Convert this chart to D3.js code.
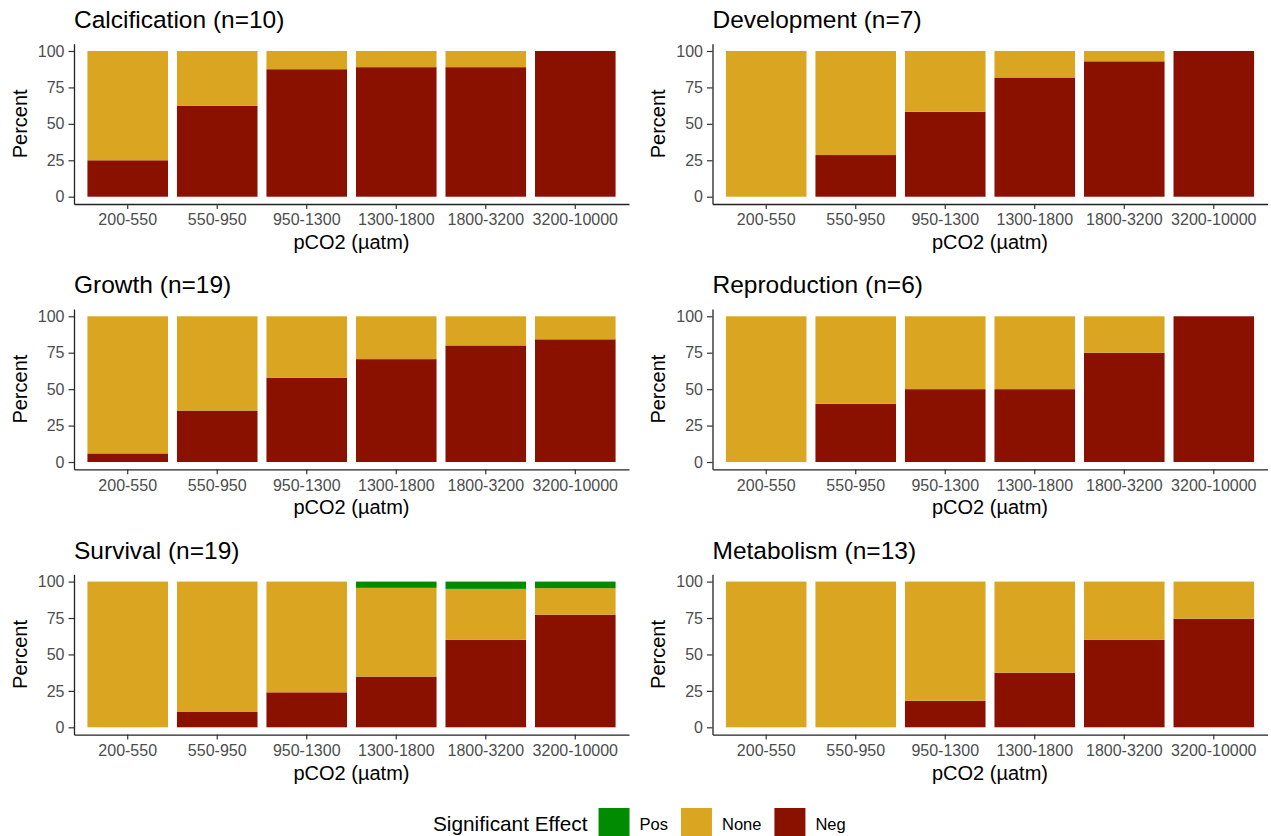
<!DOCTYPE html>
<html><head><meta charset="utf-8">
<script src="https://cdn.jsdelivr.net/npm/d3@7"></script>
<style>
body{margin:0;background:#fff}
svg{display:block}
text{font-family:"Liberation Sans",Arial,Helvetica,sans-serif}
</style>
</head><body>
<svg id="chart" width="1271" height="836"></svg>
<script>
// ---------- data ----------
const categories = ["200-550","550-950","950-1300","1300-1800","1800-3200","3200-10000"];
const panelTitles = ["Calcification (n=10)","Development (n=7)","Growth (n=19)","Reproduction (n=6)","Survival (n=19)","Metabolism (n=13)"];
const yTicks = [0,25,50,75,100];
const seriesKeys = ["Neg","None","Pos"];      // stacking order, bottom to top
const legendOrder = ["Pos","None","Neg"];
const legendTitle = "Significant Effect";
const xAxisTitle = "pCO2 (µatm)";
const yAxisTitle = "Percent";

const calcificationNeg  = [25, 62.5, 87.5, 88.9, 88.9, 100];
const calcificationNone = [75, 37.5, 12.5, 11.1, 11.1, 0];
const calcificationPos  = [0, 0, 0, 0, 0, 0];

const developmentNeg  = [0, 28.6, 58.3, 81.8, 92.9, 100];
const developmentNone = [100, 71.4, 41.7, 18.2, 7.1, 0];
const developmentPos  = [0, 0, 0, 0, 0, 0];

const growthNeg  = [5.9, 35.3, 57.9, 70.6, 80, 84.2];
const growthNone = [94.1, 64.7, 42.1, 29.4, 20, 15.8];
const growthPos  = [0, 0, 0, 0, 0, 0];

const reproductionNeg  = [0, 40, 50, 50, 75, 100];
const reproductionNone = [100, 60, 50, 50, 25, 0];
const reproductionPos  = [0, 0, 0, 0, 0, 0];

const survivalNeg  = [0, 10.5, 24, 34.8, 60, 77.3];
const survivalNone = [100, 89.5, 76, 60.9, 35, 18.2];
const survivalPos  = [0, 0, 0, 4.3, 5, 4.5];

const metabolismNeg  = [0, 0, 18.2, 37.5, 60, 74.5];
const metabolismNone = [100, 100, 81.8, 62.5, 40, 25.5];
const metabolismPos  = [0, 0, 0, 0, 0, 0];

const negByPanel  = [calcificationNeg, developmentNeg, growthNeg, reproductionNeg, survivalNeg, metabolismNeg];
const noneByPanel = [calcificationNone, developmentNone, growthNone, reproductionNone, survivalNone, metabolismNone];
const posByPanel  = [calcificationPos, developmentPos, growthPos, reproductionPos, survivalPos, metabolismPos];

// ---------- style / layout ----------
const colors = {Neg:"#8a1000", None:"#daa520", Pos:"#008b00"};
const colX = [74, 712.5];
const plotW = 555;
const rowTop0 = 43.7, rowStep = 265.3, plotH = 160.3;

const svg = d3.select("#chart");
const color = d3.scaleOrdinal().domain(seriesKeys).range(seriesKeys.map(k=>colors[k]));
const stack = d3.stack().keys(seriesKeys);

panelTitles.forEach((title, i) => {
  const col = i % 2, row = Math.floor(i / 2);
  const x0 = colX[col], top = rowTop0 + row * rowStep, bottom = top + plotH;

  const table = categories.map((c, j) => ({cat: c, Neg: negByPanel[i][j], None: noneByPanel[i][j], Pos: posByPanel[i][j]}));
  const layers = stack(table);

  const x = d3.scaleBand().domain(categories).range([x0, x0 + plotW]).paddingInner(0.1).paddingOuter(0.15);
  const y = d3.scaleLinear().domain([-5, 105]).range([bottom, top]);

  const g = svg.append("g");

  g.selectAll("g.layer").data(layers).join("g")
    .attr("fill", d => color(d.key))
    .selectAll("rect").data(d => d).join("rect")
      .attr("x", d => x(d.data.cat))
      .attr("width", x.bandwidth())
      .attr("y", d => y(d[1]))
      .attr("height", d => Math.max(0, y(d[0]) - y(d[1])));

  const yAx = g.append("g").attr("transform", `translate(${x0},0)`)
    .call(d3.axisLeft(y).tickValues(yTicks).tickSize(5.5).tickPadding(4).tickSizeOuter(0));
  const xAx = g.append("g").attr("transform", `translate(0,${bottom})`)
    .call(d3.axisBottom(x).tickSize(5).tickPadding(5).tickSizeOuter(0));

  [yAx, xAx].forEach(a => {
    a.select(".domain").attr("stroke", "#222").attr("stroke-width", 1.3);
    a.selectAll(".tick line").attr("stroke", "#333").attr("stroke-width", 1.2);
    a.selectAll(".tick text").attr("fill", "#4d4d4d").style("font-size", "16px");
  });

  g.append("text").attr("x", x0).attr("y", 28 + row * rowStep)
    .style("font-size", "24.5px").attr("fill", "#000").text(title);

  g.append("text").attr("x", x0 + plotW / 2).attr("y", 249 + row * rowStep)
    .attr("text-anchor", "middle").style("font-size", "20px").attr("fill", "#000").text(xAxisTitle);

  g.append("text")
    .attr("transform", `translate(${x0 - 47.5},${(top + bottom) / 2}) rotate(-90)`)
    .attr("text-anchor", "middle").style("font-size", "20px").attr("fill", "#000").text(yAxisTitle);
});

// ---------- legend ----------
const lg = svg.append("g");
let lx = 433;
const lt = lg.append("text").attr("x", lx).attr("y", 831).style("font-size", "20.8px").attr("fill", "#000").text(legendTitle);
lx += lt.node().getComputedTextLength() + 11;
legendOrder.forEach(k => {
  lg.append("rect").attr("x", lx).attr("y", 808).attr("width", 31).attr("height", 31).attr("fill", color(k));
  const t = lg.append("text").attr("x", lx + 41).attr("y", 830).style("font-size", "16.5px").attr("fill", "#000").text(k);
  lx += 41 + t.node().getComputedTextLength() + 13;
});
</script>
</body></html>
